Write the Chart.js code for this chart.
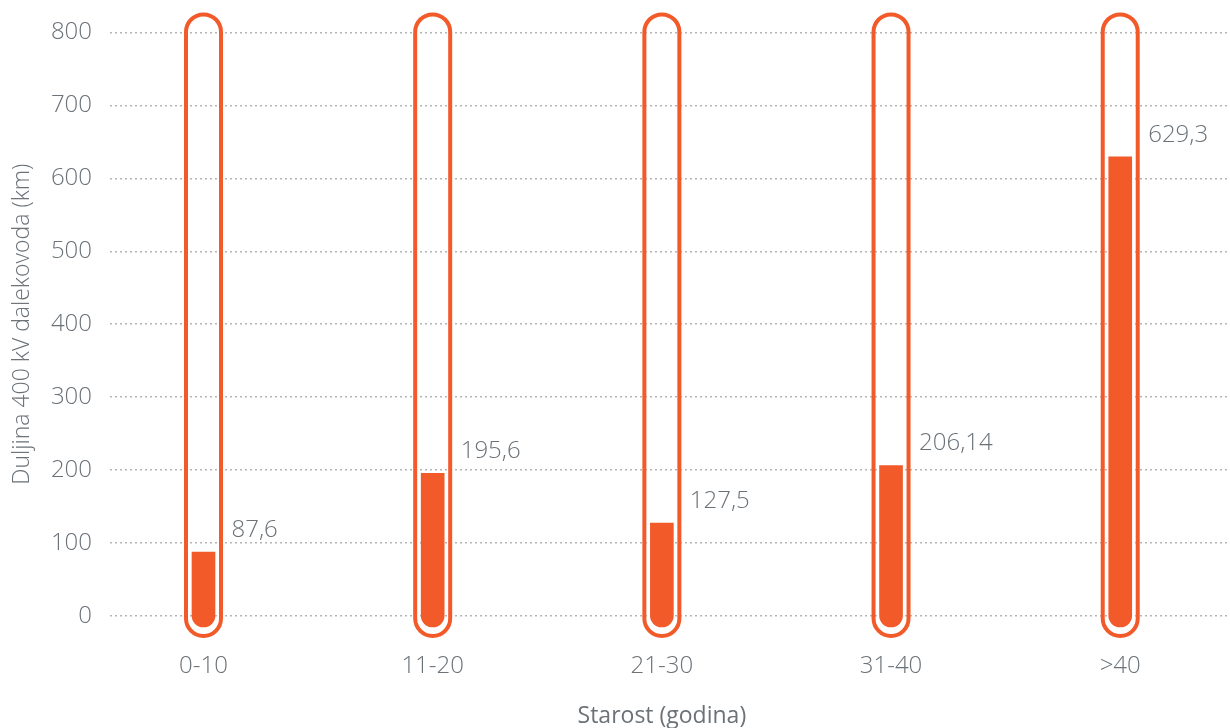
<!DOCTYPE html>
<html>
<head>
<meta charset="utf-8">
<script src="https://cdn.jsdelivr.net/npm/chart.js@4.4.1/dist/chart.umd.min.js"></script>
<style>
  html, body { margin: 0; padding: 0; background: #ffffff; }
  #wrap { width: 1230px; height: 728px; position: relative; }
</style>
</head>
<body>
<div id="wrap"><canvas id="c" width="1230" height="728"></canvas></div>
<script>
// Age groups of the 400 kV lines and their total length in km
const categories = ['0-10', '11-20', '21-30', '31-40', '>40'];
const lengths = [87.6, 195.6, 127.5, 206.14, 629.3];
const valueLabels = ['87,6', '195,6', '127,5', '206,14', '629,3'];
const yTicks = [0, 100, 200, 300, 400, 500, 600, 700, 800];

const ORANGE = '#f25a2a';
const TEXT = '#6b7278';
const FONT = "'Open Sans', 'Liberation Sans', sans-serif";

// Thermometer-style outline drawn around every bar
const tubePlugin = {
  id: 'tubes',
  beforeDatasetsDraw(chart) {
    const { ctx, scales: { y } } = chart;
    const meta = chart.getDatasetMeta(0);
    const top = y.getPixelForValue(y.max) - 18;
    const bottom = y.getPixelForValue(0) + 20;
    const half = 17.5;
    ctx.save();
    ctx.strokeStyle = ORANGE;
    ctx.lineWidth = 4;
    meta.data.forEach(bar => {
      const x = bar.x;
      ctx.beginPath();
      ctx.roundRect(x - half, top, half * 2, bottom - top, half);
      ctx.stroke();
    });
    ctx.restore();
  }
};

// Value labels placed up and to the right of each bar top
const valueLabelPlugin = {
  id: 'valueLabels',
  afterDatasetsDraw(chart) {
    const { ctx } = chart;
    const meta = chart.getDatasetMeta(0);
    ctx.save();
    ctx.fillStyle = TEXT;
    ctx.font = `300 24px ${FONT}`;
    ctx.textAlign = 'left';
    ctx.textBaseline = 'middle';
    meta.data.forEach((bar, i) => {
      ctx.fillText(valueLabels[i], bar.x + 28, bar.y - 22);
    });
    ctx.restore();
  }
};

// Horizontal axis title, centred under the middle group
const xTitlePlugin = {
  id: 'xTitle',
  afterDraw(chart) {
    const { ctx, scales: { x } } = chart;
    ctx.save();
    ctx.fillStyle = TEXT;
    ctx.font = `400 23px ${FONT}`;
    ctx.textAlign = 'center';
    ctx.textBaseline = 'middle';
    ctx.fillText('Starost (godina)', x.getPixelForValue(2), 716);
    ctx.restore();
  }
};

new Chart(document.getElementById('c'), {
  type: 'bar',
  data: {
    datasets: [{
      data: lengths.map((v, i) => ({ x: i, y: v })),
      backgroundColor: ORANGE,
      barThickness: 23,
      base: -15,
      borderSkipped: false,
      borderRadius: { topLeft: 0, topRight: 0, bottomLeft: 11.5, bottomRight: 11.5 },
      clip: false
    }]
  },
  options: {
    responsive: false,
    animation: false,
    layout: { padding: { top: 32, right: 0, bottom: 0, left: 0 } },
    plugins: { legend: { display: false }, tooltip: { enabled: false } },
    scales: {
      x: {
        type: 'linear',
        offset: false,
        min: -0.408,
        max: 4.479,
        afterBuildTicks: s => { s.ticks = categories.map((_, i) => ({ value: i })); },
        afterFit: s => { s.height = 112; },
        grid: { display: false, drawTicks: false },
        border: { display: false },
        ticks: {
          padding: 36,
          color: TEXT,
          font: { family: FONT, size: 24, weight: 300 },
          callback: v => categories[v]
        },
        title: { display: false }
      },
      y: {
        min: 0,
        max: 800,
        afterBuildTicks: s => { s.ticks = yTicks.map(v => ({ value: v })); },
        afterFit: s => { s.width = 110; },
        grid: {
          color: '#b5b5b5',
          lineWidth: 1.5,
          drawTicks: false
        },
        border: { display: false, dash: [2, 3] },
        ticks: {
          padding: 18,
          color: TEXT,
          font: { family: FONT, size: 24, weight: 300 }
        },
        title: {
          display: true,
          text: 'Duljina 400 kV dalekovoda (km)',
          color: TEXT,
          font: { family: FONT, size: 23, weight: 300 },
          padding: { top: 9, bottom: 0 }
        }
      }
    }
  },
  plugins: [tubePlugin, valueLabelPlugin, xTitlePlugin]
});
</script>
</body>
</html>
